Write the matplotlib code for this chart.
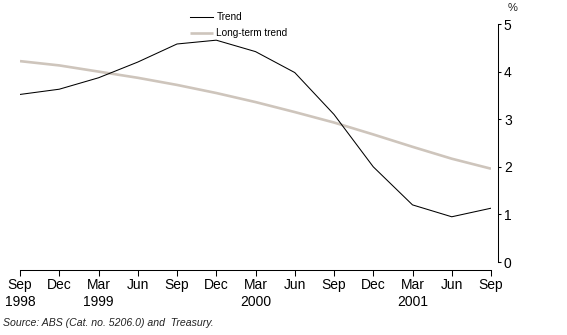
import matplotlib
matplotlib.use("Agg")
import numpy as np
from matplotlib import pyplot as plt

quarters = ["Sep\n1998", "Dec", "Mar\n1999", "Jun", "Sep", "Dec", "Mar\n2000",
            "Jun", "Sep", "Dec", "Mar\n2001", "Jun", "Sep"]
trend = [3.52, 3.63, 3.87, 4.20, 4.58, 4.66, 4.42, 3.98, 3.10, 2.00, 1.20, 0.95, 1.13]
long_term = [4.22, 4.13, 4.00, 3.87, 3.72, 3.55, 3.36, 3.15, 2.93, 2.68, 2.42, 2.17, 1.96]
yticks = [0, 1, 2, 3, 4, 5]

plt.rcParams['font.family'] = ['Liberation Sans Narrow', 'Liberation Sans', 'DejaVu Sans']

fig = plt.figure(figsize=(5.67, 3.35), dpi=100)
W, H = 567, 335
ax = fig.add_axes([20 / W, (H - 262) / H, (491 - 20) / W, (262 - 24) / H])

x = np.arange(len(quarters))
ax.plot(x, long_term, color="#cec5bc", lw=1.9, label="Long-term trend", solid_capstyle="butt")
ax.plot(x, trend, color="black", lw=0.75, label="Trend")

ax.set_xlim(0, 12)
ax.set_ylim(0, 5)
ax.set_xticks(x)
ax.set_xticklabels(quarters, fontsize=8, color="#222222", linespacing=1.15)
ax.set_yticks(yticks)
ax.set_yticklabels([str(v) for v in yticks], fontsize=8.5, color="#222222")

for s in ["top", "left"]:
    ax.spines[s].set_visible(False)
ax.spines["bottom"].set_position(("outward", 5.8))
ax.spines["right"].set_position(("outward", 4.8))
ax.spines["bottom"].set_linewidth(0.75)
ax.spines["right"].set_linewidth(0.75)
ax.yaxis.tick_right()
ax.tick_params(axis="x", direction="out", length=4, width=0.75, pad=2)
ax.tick_params(axis="y", direction="out", length=2.5, width=0.75, pad=2)

handles, labels = ax.get_legend_handles_labels()
leg = ax.legend(handles[::-1], labels[::-1], loc="upper left", bbox_to_anchor=((190 - 20) / 471, 1 + 12 / 238),
                frameon=False, fontsize=7.2, handlelength=2.3, handletextpad=0.35, labelspacing=0.6,
                borderaxespad=0, borderpad=0)

fig.text(513 / W, 1 - 8 / H, "%", fontsize=8, va="center", ha="center", color="#222222")
fig.text(3 / W, 1 - 323 / H, "Source: ABS (Cat. no. 5206.0) and  Treasury.", fontsize=7.6,
         style="italic", va="center", ha="left", color="#222222")

fig.savefig("out.png", dpi=100)
